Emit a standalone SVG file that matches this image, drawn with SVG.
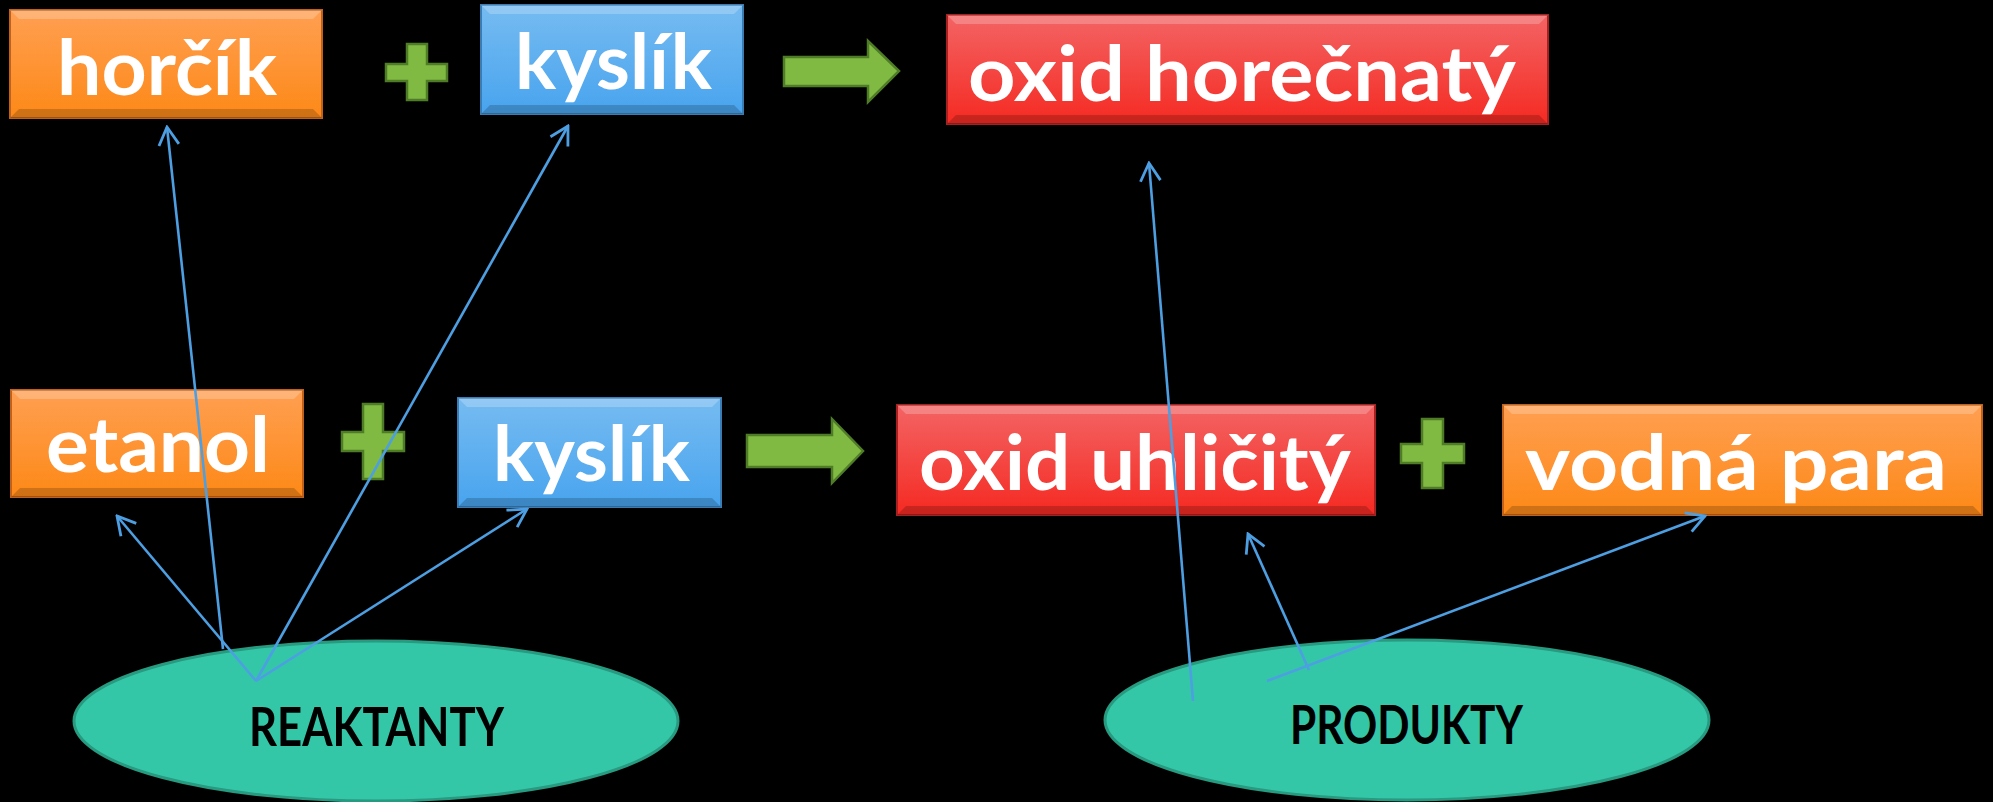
<svg xmlns="http://www.w3.org/2000/svg" width="1993" height="802" viewBox="0 0 1993 802">
  <defs>
    <linearGradient id="gOrange" x1="0" y1="0" x2="0" y2="1">
      <stop offset="0" stop-color="#ff9f52"/>
      <stop offset="1" stop-color="#fd8917"/>
    </linearGradient>
    <linearGradient id="gBlue" x1="0" y1="0" x2="0" y2="1">
      <stop offset="0" stop-color="#76bbf1"/>
      <stop offset="1" stop-color="#48a4ee"/>
    </linearGradient>
    <linearGradient id="gRed" x1="0" y1="0" x2="0" y2="1">
      <stop offset="0" stop-color="#f36464"/>
      <stop offset="1" stop-color="#f52a22"/>
    </linearGradient>
    <marker id="open" viewBox="-22 -12 24 24" markerWidth="24" markerHeight="24" refX="0" refY="0" orient="auto" markerUnits="userSpaceOnUse">
      <path d="M-18,-10 L0,0 L-18,10" fill="none" stroke="#4d9fe2" stroke-width="2.8" stroke-linejoin="miter"/>
    </marker>
  </defs>
  <style>
    .orange { fill: url(#gOrange); stroke: #c2621a; stroke-width: 2; }
    .blue { fill: url(#gBlue); stroke: #3a7db5; stroke-width: 2; }
    .red { fill: url(#gRed); stroke: #a82020; stroke-width: 2; }
    .hi { fill: #ffffff; opacity: 0.22; }
    .lo { fill: #000000; opacity: 0.18; }
    .lbl { font-family: "Lato", "Liberation Sans", sans-serif; font-weight: bold; font-size: 76px; fill: #ffffff; }
    .sym { fill: #80ba42; stroke: #4f7d27; stroke-width: 2.5; }
    .oval { fill: #33c7a8; stroke: #279a80; stroke-width: 3; }
    .olbl { font-family: "Lato", "Liberation Sans", sans-serif; font-weight: bold; font-size: 54px; fill: #000000; }
    .link { fill: none; stroke: #4d9fe2; stroke-width: 2.6; }
  </style>

  <rect x="0" y="0" width="1993" height="802" fill="#000000"/>

  <!-- row 1 -->
  <g id="horcik">
    <rect class="orange" x="10" y="10" width="312" height="108"/>
    <polygon class="hi" points="10,10 322,10 313,19 19,19"/>
    <polygon class="lo" points="10,118 322,118 313,109 19,109"/>
    <text class="lbl" x="57" y="95" textLength="220" lengthAdjust="spacingAndGlyphs">horčík</text>
  </g>
  <g id="plus1">
    <polygon class="sym" points="407,44 427,44 427,64 447,64 447,81 427,81 427,100 407,100 407,81 386,81 386,64 407,64"/>
  </g>
  <g id="kyslik1">
    <rect class="blue" x="481" y="5" width="262" height="109"/>
    <polygon class="hi" points="481,5 743,5 734,14 490,14"/>
    <polygon class="lo" points="481,114 743,114 734,105 490,105"/>
    <text class="lbl" x="515" y="89" textLength="197" lengthAdjust="spacingAndGlyphs">kyslík</text>
  </g>
  <g id="arrow1">
    <polygon class="sym" points="784,57 868,57 868,41 899,71 868,102 868,86 784,86"/>
  </g>
  <g id="oxid-horecnaty">
    <rect class="red" x="947" y="15" width="601" height="109"/>
    <polygon class="hi" points="947,15 1548,15 1539,24 956,24"/>
    <polygon class="lo" points="947,124 1548,124 1539,115 956,115"/>
    <text class="lbl" x="968" y="101" textLength="548" lengthAdjust="spacingAndGlyphs">oxid horečnatý</text>
  </g>

  <!-- row 2 -->
  <g id="etanol">
    <rect class="orange" x="11" y="390" width="292" height="107"/>
    <polygon class="hi" points="11,390 303,390 294,399 20,399"/>
    <polygon class="lo" points="11,497 303,497 294,488 20,488"/>
    <text class="lbl" x="46" y="472" textLength="224" lengthAdjust="spacingAndGlyphs">etanol</text>
  </g>
  <g id="plus2">
    <polygon class="sym" points="363,404 383,404 383,432 404,432 404,451 383,451 383,479 363,479 363,451 342,451 342,432 363,432"/>
  </g>
  <g id="kyslik2">
    <rect class="blue" x="458" y="398" width="263" height="109"/>
    <polygon class="hi" points="458,398 721,398 712,407 467,407"/>
    <polygon class="lo" points="458,507 721,507 712,498 467,498"/>
    <text class="lbl" x="493" y="481" textLength="197" lengthAdjust="spacingAndGlyphs">kyslík</text>
  </g>
  <g id="arrow2">
    <polygon class="sym" points="747,435 832,435 832,419 863,451 832,483 832,467 747,467"/>
  </g>
  <g id="oxid-uhlicity">
    <rect class="red" x="897" y="405" width="478" height="110"/>
    <polygon class="hi" points="897,405 1375,405 1366,414 906,414"/>
    <polygon class="lo" points="897,515 1375,515 1366,506 906,506"/>
    <text class="lbl" x="919" y="490" textLength="432" lengthAdjust="spacingAndGlyphs">oxid uhličitý</text>
  </g>
  <g id="plus3">
    <polygon class="sym" points="1422,419 1443,419 1443,444 1464,444 1464,463 1443,463 1443,488 1422,488 1422,463 1401,463 1401,444 1422,444"/>
  </g>
  <g id="vodna-para">
    <rect class="orange" x="1503" y="405" width="479" height="110"/>
    <polygon class="hi" points="1503,405 1982,405 1973,414 1512,414"/>
    <polygon class="lo" points="1503,515 1982,515 1973,506 1512,506"/>
    <text class="lbl" x="1525" y="490" textLength="422" lengthAdjust="spacingAndGlyphs">vodná para</text>
  </g>

  <!-- category ovals -->
  <g id="reaktanty">
    <ellipse class="oval" cx="376" cy="721" rx="302" ry="80"/>
    <text class="olbl" x="249" y="746" textLength="255" lengthAdjust="spacingAndGlyphs">REAKTANTY</text>
  </g>
  <g id="produkty">
    <ellipse class="oval" cx="1407" cy="720" rx="302" ry="80"/>
    <text class="olbl" x="1290" y="744" textLength="233" lengthAdjust="spacingAndGlyphs">PRODUKTY</text>
  </g>

  <!-- connectors -->
  <g id="connectors">
    <line class="link" x1="256" y1="681" x2="117" y2="516" marker-end="url(#open)"/>
    <line class="link" x1="256" y1="681" x2="527" y2="509" marker-end="url(#open)"/>
    <line class="link" x1="256" y1="681" x2="568" y2="126" marker-end="url(#open)"/>
    <line class="link" x1="223" y1="649" x2="167" y2="127" marker-end="url(#open)"/>
    <line class="link" x1="1193" y1="701" x2="1149" y2="163" marker-end="url(#open)"/>
    <line class="link" x1="1309" y1="670" x2="1248" y2="534" marker-end="url(#open)"/>
    <line class="link" x1="1267" y1="681" x2="1705" y2="516" marker-end="url(#open)"/>
  </g>
</svg>
